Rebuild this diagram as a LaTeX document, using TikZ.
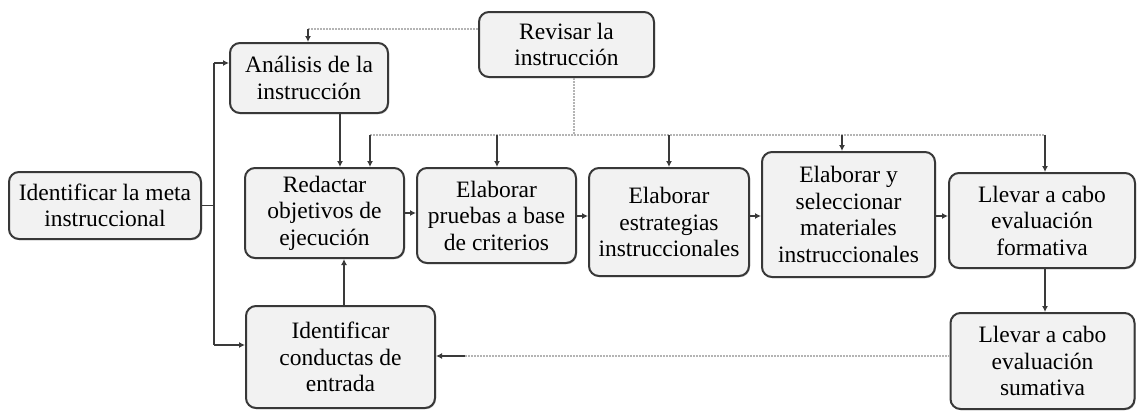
\documentclass[tikz,border=0pt]{standalone}
\usepackage{fontspec}
\setmainfont{Liberation Serif}
\usetikzlibrary{arrows.meta,shadows}
\definecolor{boxfill}{HTML}{F2F2F2}
\definecolor{boxline}{HTML}{383838}
\definecolor{solidln}{HTML}{3A3A3A}
\definecolor{dotln}{HTML}{B4B4B4}
\tikzset{
  box/.style={draw=boxline, line width=2pt, fill=boxfill, rounded corners=10pt,
    align=center, inner sep=1pt, font=\fontsize{23.5}{26.5}\selectfont,
    drop shadow={shadow xshift=1pt, shadow yshift=-1.2pt, opacity=0.45}},
  arr/.style={draw=solidln, line width=1.9pt, -{Latex[length=6pt,width=6pt]}},
  ln/.style={draw=solidln, line width=1.9pt},
  dotl/.style={draw=dotln, line width=1.3pt, dash pattern=on 2pt off 1pt},
}
\begin{document}
\begin{tikzpicture}[x=1pt,y=-1pt]
\useasboundingbox (0,0) rectangle (1137,410);
\node[box, minimum width=192pt, minimum height=67pt] (meta) at (105,205.5) {Identificar la meta\\instruccional};
\node[box, minimum width=158pt, minimum height=70pt] (anal) at (309,78) {Análisis de la\\instrucción};
\node[box, minimum width=175pt, minimum height=65pt] (rev) at (566.5,44.5) {Revisar la\\instrucción};
\node[box, minimum width=159pt, minimum height=90pt] (red) at (324.5,213) {Redactar\\objetivos de\\ejecución};
\node[box, minimum width=159pt, minimum height=95pt] (pru) at (496.5,215.5) {Elaborar\\pruebas a base\\de criterios};
\node[box, minimum width=160pt, minimum height=108pt] (est) at (669,222) {Elaborar\\estrategias\\instruccionales};
\node[box, minimum width=173pt, minimum height=125pt] (sel) at (848.5,214.5) {Elaborar y\\seleccionar\\materiales\\instruccionales};
\node[box, minimum width=186pt, minimum height=95pt] (form) at (1042,220.5) {Llevar a cabo\\evaluación\\formativa};
\node[box, minimum width=189pt, minimum height=102pt] (cond) at (340.5,357) {Identificar\\conductas de\\entrada};
\node[box, minimum width=184pt, minimum height=96pt] (sum) at (1042.5,361) {Llevar a cabo\\evaluación\\sumativa};

% coordinates
\coordinate (jm) at (214,205.5);
\coordinate (jt) at (214,63);
\coordinate (jb) at (214,345);
\coordinate (rl) at (308,29);
\coordinate (rb) at (574,135);
\coordinate (bl) at (370,135);
\coordinate (br) at (1045,135);
\coordinate (cs) at (465,356);

% meta to vertical line
\draw[ln] (meta.east |- jm) -- (jm);
\draw[ln] (jt) -- (jb);
\draw[arr] (jt) -- (anal.west |- jt);
\draw[arr] (jb) -- (cond.west |- jb);

% analisis to redactar
\draw[arr] (anal.south -| 340,0) -- (red.north -| 340,0);

% revisar to analisis
\draw[dotl] (rev.west |- rl) -- (rl);
\draw[arr] (rl) -- (anal.north -| rl);

% revisar bus
\draw[dotl] (rev.south -| rb) -- (rb);
\draw[dotl] (bl) -- (br);
\draw[arr] (bl) -- (red.north -| bl);
\draw[arr] (497,135) -- (pru.north -| 497,0);
\draw[arr] (669,135) -- (est.north -| 669,0);
\draw[arr] (842,135) -- (sel.north -| 842,0);
\draw[arr] (br) -- (form.north -| br);

% main chain
\draw[arr] (red.east |- 0,213) -- (pru.west |- 0,213);
\draw[arr] (pru.east |- 0,216) -- (est.west |- 0,216);
\draw[arr] (est.east |- 0,216) -- (sel.west |- 0,216);
\draw[arr] (sel.east |- 0,216) -- (form.west |- 0,216);

% formativa to sumativa
\draw[arr] (form.south -| 1045,0) -- (sum.north -| 1045,0);

% sumativa to conductas
\draw[dotl] (sum.west |- cs) -- (cs);
\draw[arr] (cs) -- (cond.east |- cs);

% conductas to redactar
\draw[arr] (cond.north -| 344,0) -- (red.south -| 344,0);
\end{tikzpicture}
\end{document}
